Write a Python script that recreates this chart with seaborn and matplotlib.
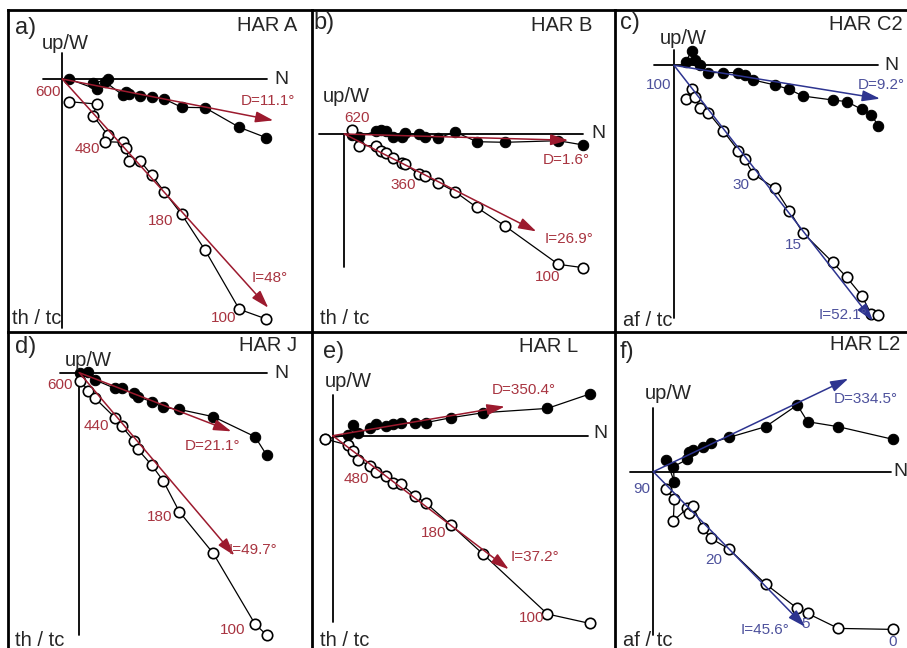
import numpy as np
import matplotlib.pyplot as plt
import seaborn as sns

# magnetisation components (arbitrary units),
# one entry per demagnetisation step
a_north = [6.7, 34.3, 31, 45.3, 42.7, 60.3, 63.7, 66.5, 77.7, 89.3, 102, 119.3, 142.7, 177, 204]
a_east = [0, 10.3, 4.3, 0.3, 2.7, 16, 12.7, 15.3, 16.7, 18.3, 20, 28.3, 28.7, 48.3, 58.7]
a_down = [22.7, 25, 36.7, 56, 62.7, 63.3, 68.7, 82, 81.7, 96, 112.7, 135.3, 171, 230.3, 240]

b_north = [7.5, 15, 32, 37, 42, 48.5, 58, 61, 74.3, 80.3, 94, 110.7, 132.3, 160.7, 214, 239]
b_east = [1, 2.7, -3, -4, -3, 2.7, 2.7, -0.7, 0.3, 2.7, 4.3, -2.3, 7.7, 8.3, 6.7, 11]
b_down = [-4, 11.7, 11.7, 17, 19.3, 24.3, 28.7, 30, 40.3, 42, 48.7, 57.7, 73.3, 92, 130.3, 133.7]

c_north = [12, 17.7, 21, 26, 34.3, 49.3, 64.3, 70.7, 79.3, 101, 115.3, 128.7, 158.7, 172.7, 187.7, 197.3, 204.3]
c_east = [-3.7, -14.7, -5.3, -0.3, 7.3, 7.3, 7.3, 9.7, 14.7, 19.7, 24, 30.7, 34.7, 36.3, 44, 49.7, 60.3]
c_down = [34, 24, 31.3, 43, 47.3, 65.7, 85.3, 94, 108.7, 123, 145.3, 167.3, 197, 212, 230.3, 249, 249.7]

d_north = [1, 9, 16, 35.7, 42.3, 54.5, 58.5, 72.3, 84, 100, 134, 175.7, 187.3]
d_east = [0, -1, 7.3, 15.7, 15.7, 20.7, 24, 29, 34.7, 36.7, 44, 64, 82.3]
d_down = [8, 18, 25.7, 45, 53.3, 68, 76.7, 92.3, 108.3, 139, 180.7, 251.3, 262.3]

e_north = [-7.7, 15, 20.7, 25.5, 37.3, 43.7, 52.8, 59.8, 68.7, 82.3, 92.8, 118.3, 150.7, 214.7, 257]
e_east = [3.3, -0.7, -10.7, -2.3, -7.3, -11.7, -9.7, -11.7, -13, -12.3, -13, -18, -23, -27.3, -41.7]
e_down = [3.3, 9.3, 15, 24.3, 30, 36, 40.3, 47.7, 48.3, 60.3, 67, 89.3, 118.7, 178.3, 187.7]

f_north = [13, 21, 20, 34, 36, 39.5, 49.3, 57.7, 75.7, 112.3, 144, 154.3, 185, 240]
f_east = [-11.7, 10, -5, -12.3, -20, -21.7, -24.3, -29, -34.3, -45, -66.7, -50, -45, -32.3]
f_down = [17.7, 27.7, 49, 36.7, 41.7, 34.3, 56, 66.7, 77.3, 112.3, 136.7, 141.7, 156.7, 157.7]

# fitted directions
fit_dec = [11.1, 1.6, 9.2, 21.1, 350.4, 334.5]
fit_inc = [48, 26.9, 52.1, 49.7, 37.2, 45.6]

names = ['HAR A', 'HAR B', 'HAR C2', 'HAR J', 'HAR L', 'HAR L2']
letters = ['a)', 'b)', 'c)', 'd)', 'e)', 'f)']
methods = ['th / tc', 'th / tc', 'af / tc', 'th / tc', 'th / tc', 'af / tc']
step_labels = [['600', '480', '180', '100'],
               ['620', '360', '100'],
               ['100', '30', '15'],
               ['600', '440', '180', '100'],
               ['480', '180', '100'],
               ['90', '20', '5', '0']]

data = [(a_north, a_east, a_down), (b_north, b_east, b_down), (c_north, c_east, c_down),
        (d_north, d_east, d_down), (e_north, e_east, e_down), (f_north, f_east, f_down)]

sns.set_theme(style='white')
plt.rcParams['font.family'] = ['Liberation Sans', 'DejaVu Sans']

RED_T, RED_A = '#a83440', '#9c1a2e'
BLUE_T, BLUE_A = '#4d519c', '#2d3490'

W, H = 907, 648
fig = plt.figure(figsize=(9.07, 6.48), dpi=100)
fig.patch.set_facecolor('white')

# layout in pixels: panel rect, origin, axis-line extents, label spots
panels = [
    dict(rect=(8, 10, 304, 322), org=(62.3, 79), h=(-19.3, 204.7), v=(-26, 249),
         col='r', L=(211, 206), steps=[(-14.7, 12.7), (25, 70), (98.7, 141.7), (161, 239.3)],
         dpos=(206, 21.7), ipos=(207, 199.3),
         let=(15, 28), name=(297, 25.5), meth=(12, 318), up=(65.7, 43.3), n=(281.7, 79)),
    dict(rect=(312, 10, 303, 322), org=(344.3, 134), h=(-25.3, 238.7), v=(0, 132.7),
         col='r', L=(224, 192), steps=[(12.3, -15.7), (59, 51), (203.3, 142.7)],
         dpos=(222.3, 26), ipos=(225, 105),
         let=(313, 23.5), name=(592, 25.5), meth=(320, 318), up=(346.7, 96.7), n=(598.3, 134)),
    dict(rect=(615, 10, 292, 322), org=(674, 65.3), h=(-20, 204), v=(-15.3, 252.7),
         col='b', L=(206, 199), steps=[(-15, 19.7), (67, 119.7), (119.3, 179.7)],
         dpos=(207.7, 19.7), ipos=(169.3, 249.7),
         let=(620, 23), name=(903, 24), meth=(622.7, 320), up=(683.3, 38.3), n=(891.7, 65.3)),
    dict(rect=(8, 332, 304, 316), org=(79.3, 372.7), h=(-19.3, 187.4), v=(0, 262.3),
         col='r', L=(152, 155), steps=[(-19.3, 12.3), (17.3, 53.3), (80, 144.7), (153, 257.3)],
         dpos=(133, 73.3), ipos=(173.3, 177.3),
         let=(15, 346.7), name=(296.7, 345.5), meth=(15, 640), up=(88.3, 360), n=(281.7, 373.3)),
    dict(rect=(312, 332, 303, 316), org=(332.7, 435.7), h=(0, 255), v=(-40.7, 186),
         col='r', L=(172, 176), steps=[(23.3, 43.7), (100.7, 97.7), (199, 182.7)],
         dpos=(190.7, -45.7), ipos=(202.3, 121),
         let=(323, 351.7), name=(578, 346), meth=(320, 640), up=(348.3, 381.7), n=(600, 434)),
    dict(rect=(615, 332, 292, 316), org=(653.3, 471.7), h=(-23.3, 238), v=(-63.4, 163.3),
         col='b', L=(195, 152), steps=[(-11.7, 17.7), (60, 88.3), (152.7, 152.3), (239, 170)],
         dpos=(212.7, -72.3), ipos=(111.7, 158.3),
         let=(620, 351.7), name=(900, 345), meth=(623.3, 640), up=(668.3, 393.3), n=(900, 472)),
]


def ftext(x, y, s, **kw):
    fig.text(x / W, 1 - y / H, s, **kw)


for i, p in enumerate(panels):
    x0, y0, w, h = p['rect']
    ox, oy = p['org']
    ax = fig.add_axes([x0 / W, 1 - (y0 + h) / H, w / W, h / H])
    ax.set_xlim(x0 - ox, x0 + w - ox)
    ax.set_ylim(y0 + h - oy, y0 - oy)  # down is positive
    ax.set_xticks([])
    ax.set_yticks([])
    ax.set_facecolor('white')
    for side in ['right', 'bottom']:
        ax.spines[side].set_visible(False)
    for side in ['top', 'left']:
        ax.spines[side].set_color('black')
        ax.spines[side].set_linewidth(2)

    # axes of the diagram
    ax.plot(p['h'], [0, 0], color='black', lw=1.3, zorder=1)
    ax.plot([0, 0], p['v'], color='black', lw=1.3, zorder=1)

    north, east, down = data[i]
    # horizontal projection (filled) and vertical projection (open)
    sns.lineplot(x=north, y=east, sort=False, estimator=None, ax=ax, color='black',
                 lw=0.9, marker='o', markersize=7.5, markerfacecolor='black',
                 markeredgecolor='black', zorder=2)
    sns.lineplot(x=north, y=down, sort=False, estimator=None, ax=ax, color='black',
                 lw=0.9, marker='o', markersize=7.5, markerfacecolor='white',
                 markeredgecolor='black', markeredgewidth=1.2, zorder=3)

    tcol, acol = (RED_T, RED_A) if p['col'] == 'r' else (BLUE_T, BLUE_A)
    dec, inc = fit_dec[i], fit_inc[i]
    Ld, Li = p['L']
    for Lx, ang in [(Ld, dec), (Li, inc)]:
        ax.annotate('', xy=(Lx, Lx * np.tan(np.radians(ang))), xytext=(0, 0),
                    arrowprops=dict(arrowstyle='-|>,head_length=0.9,head_width=0.28',
                                    color=acol, lw=1.1, mutation_scale=12,
                                    shrinkA=0, shrinkB=0), zorder=4)

    for lab, (tx, ty) in zip(step_labels[i], p['steps']):
        ax.text(tx, ty, lab, color=tcol, fontsize=11, ha='center', va='center', zorder=5)
    ax.text(*p['dpos'], f'D={dec}°', color=tcol, fontsize=11, ha='center', va='center', zorder=5)
    ax.text(*p['ipos'], f'I={inc}°', color=tcol, fontsize=11, ha='center', va='center', zorder=5)

    ftext(*p['let'], letters[i], fontsize=17, ha='left', va='center')
    ftext(*p['name'], names[i], fontsize=14.5, ha='right', va='center')
    ftext(*p['meth'], methods[i], fontsize=14.5, ha='left', va='center')
    ftext(*p['up'], 'up/W', fontsize=14.5, ha='center', va='center')
    ftext(*p['n'], 'N', fontsize=14, ha='center', va='center')

fig.savefig('out.png', dpi=100, facecolor='white')
